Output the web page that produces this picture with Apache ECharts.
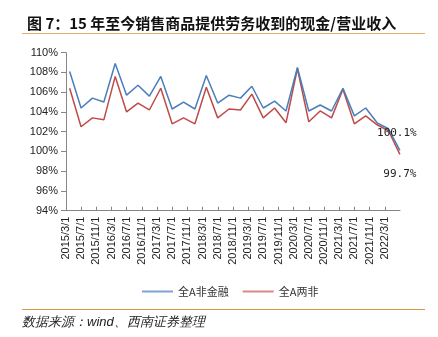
<!DOCTYPE html>
<html>
<head>
<meta charset="utf-8">
<script src="https://cdn.jsdelivr.net/npm/echarts@6/dist/echarts.min.js"></script>
<style>
html,body{margin:0;padding:0;background:#fff;}
#chart{width:438px;height:337px;}
</style>
</head>
<body>
<div id="chart"></div>
<script>
// Quarter-end report dates
const dates = [
  '2015/3/31','2015/6/30','2015/9/30','2015/12/31',
  '2016/3/31','2016/6/30','2016/9/30','2016/12/31',
  '2017/3/31','2017/6/30','2017/9/30','2017/12/31',
  '2018/3/31','2018/6/30','2018/9/30','2018/12/31',
  '2019/3/31','2019/6/30','2019/9/30','2019/12/31',
  '2020/3/31','2020/6/30','2020/9/30','2020/12/31',
  '2021/3/31','2021/6/30','2021/9/30','2021/12/31',
  '2022/3/31','2022/6/30'
];
// 全A非金融 (%)
const nonFinancial = [
  108.1,104.4,105.4,105.0,
  108.9,105.7,106.7,105.6,
  107.6,104.3,105.0,104.3,
  107.7,104.9,105.7,105.4,
  106.6,104.4,105.1,104.1,
  108.5,104.1,104.7,104.1,
  106.4,103.6,104.4,102.9,
  102.3,100.1
];
// 全A两非 (%)
const twoNon = [
  106.4,102.5,103.4,103.2,
  107.6,104.0,104.9,104.2,
  106.4,102.8,103.4,102.8,
  106.5,103.4,104.3,104.2,
  105.8,103.4,104.4,102.9,
  108.4,103.0,104.1,103.4,
  106.3,102.8,103.6,102.7,
  102.1,99.7
];
// Axis: months counted from 2015/3/1, tick labels every 4 months
const axisStart = {y:2015, m:3};
const axisMonths = 88;
const tickStep = 4;
const yMin = 94, yMax = 110, yStep = 2;

function monthOffset(s){
  const p = s.split('/').map(Number);
  const dim = new Date(p[0], p[1], 0).getDate();
  return (p[0]-axisStart.y)*12 + (p[1]-axisStart.m) + (p[2]-1)/dim;
}
function offsetLabel(v){
  if (v >= axisMonths) return '';
  const total = axisStart.m - 1 + Math.round(v);
  const y = axisStart.y + Math.floor(total/12);
  const m = total % 12 + 1;
  return y + '/' + m + '/1';
}
function buildData(vals){
  return vals.map((v,i)=>[monthOffset(dates[i]), v]);
}
const endFmt = p => p.value[1].toFixed(1) + '%';
const labelFont = 'DejaVu Sans Mono, monospace';

const chart = echarts.init(document.getElementById('chart'), null, {renderer:'canvas'});
const font = 'Liberation Sans, Arial, sans-serif';
chart.setOption({
  animation:false,
  backgroundColor:'#fff',
  title:{
    text:'图 7：15 年至今销售商品提供劳务收到的现金/营业收入',
    left:22, top:10,
    textStyle:{fontSize:15, fontWeight:'bold', color:'#111', fontFamily:'Noto Sans CJK SC', lineHeight:16}
  },
  graphic:[
    {type:'line', shape:{x1:22,y1:33.5,x2:425,y2:33.5}, style:{stroke:'#E4AC64', lineWidth:1}},
    {type:'line', shape:{x1:22,y1:309.5,x2:425,y2:309.5}, style:{stroke:'#D99A45', lineWidth:1}},
    {type:'text', left:22, top:316, style:{text:'数据来源：wind、西南证券整理', fontSize:13, fontStyle:'italic', fill:'#222', font:'italic 13px "Noto Sans CJK SC"'}}
  ],
  legend:{
    left:137, top:281,
    itemWidth:31, itemHeight:2, itemGap:14,
    icon:'rect',
    textStyle:{fontSize:11, color:'#333', fontFamily:'Noto Sans CJK SC'},
    data:[
      {name:'全A非金融', itemStyle:{color:'#7FA2D0'}},
      {name:'全A两非', itemStyle:{color:'#D78A88'}}
    ]
  },
  grid:{left:66, right:38, top:52.7, bottom:126.3, containLabel:false},
  xAxis:{
    type:'value', min:0, max:axisMonths, interval:tickStep,
    axisLine:{show:true, lineStyle:{color:'#868686', width:1}},
    axisTick:{show:true, inside:true, length:4, lineStyle:{color:'#868686'}},
    splitLine:{show:false},
    axisLabel:{rotate:90, margin:6, fontSize:11, color:'#222', fontFamily:font,
      formatter:offsetLabel, showMaxLabel:false, padding:[6,0,0,0]}
  },
  yAxis:{
    type:'value', min:yMin, max:yMax, interval:yStep,
    axisLine:{show:true, lineStyle:{color:'#868686', width:1}},
    axisTick:{show:true, length:5, lineStyle:{color:'#868686'}},
    splitLine:{show:false},
    axisLabel:{fontSize:11, color:'#222', margin:8, fontFamily:font, formatter:'{value}%'}
  },
  series:[
    {name:'全A非金融', type:'line', symbol:'none', data:buildData(nonFinancial),
      lineStyle:{color:'#4A7EBB', width:1.5}, itemStyle:{color:'#4A7EBB'}, z:3,
      endLabel:{show:true, formatter:endFmt, distance:0, align:'center', verticalAlign:'middle',
        offset:[-3,-17], fontSize:11, color:'#222', fontFamily:labelFont}},
    {name:'全A两非', type:'line', symbol:'none', data:buildData(twoNon),
      lineStyle:{color:'#BE4B48', width:1.5}, itemStyle:{color:'#BE4B48'}, z:2,
      endLabel:{show:true, formatter:endFmt, distance:0, align:'center', verticalAlign:'middle',
        offset:[0,20], fontSize:11, color:'#222', fontFamily:labelFont}}
  ]
});
</script>
</body>
</html>
